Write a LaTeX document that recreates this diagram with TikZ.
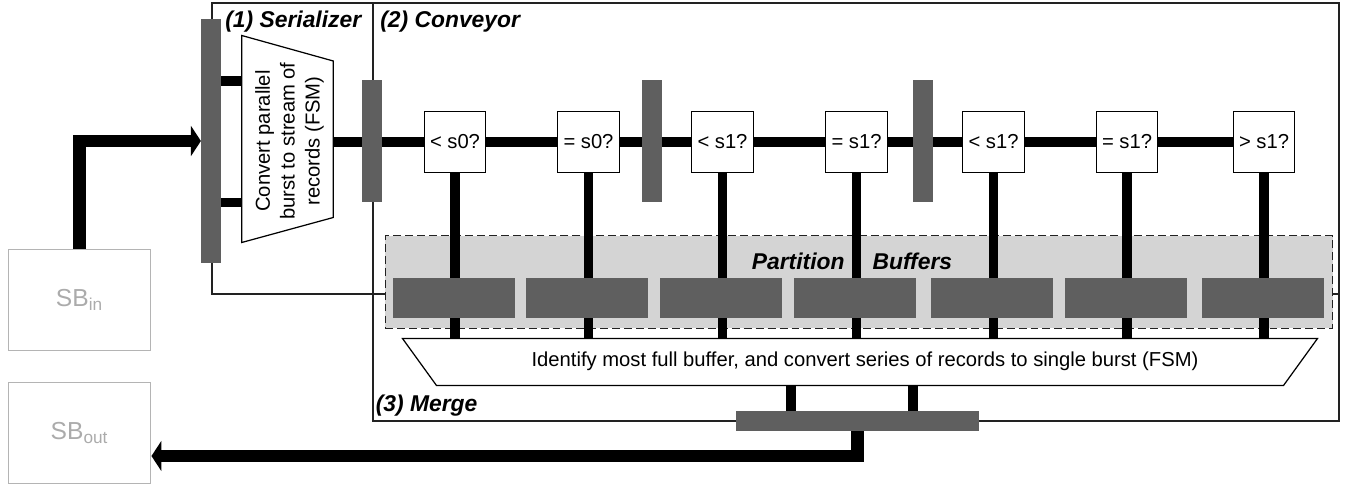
\documentclass[tikz,border=0pt]{standalone}
\usepackage{fontspec}
\setmainfont{Liberation Sans}
\usetikzlibrary{arrows.meta}
\definecolor{reggray}{HTML}{5F5F5F}
\definecolor{areagray}{HTML}{D4D4D4}
\definecolor{sbgray}{HTML}{B4B4B4}
\definecolor{sbtext}{HTML}{ABABAB}
\definecolor{framegray}{HTML}{222222}

\begin{document}
\begin{tikzpicture}[
    cmp/.style={rectangle, draw, fill=white, line width=0.7pt, minimum width=1.23cm, minimum height=1.23cm, inner sep=0pt, font=\fontsize{11.5}{14}\selectfont},
    reg/.style={rectangle, fill=reggray, inner sep=0pt, minimum width=0.39cm, minimum height=2.43cm},
    buf/.style={rectangle, fill=reggray, inner sep=0pt, minimum width=2.44cm, minimum height=0.79cm},
    sb/.style={rectangle, draw=sbgray, line width=0.8pt, text=sbtext, minimum width=2.85cm, minimum height=2.02cm, font=\fontsize{14}{16}\selectfont},
    title/.style={anchor=base west, inner sep=0pt, font=\fontsize{13}{15}\selectfont\bfseries\itshape},
    frame/.style={draw=framegray, line width=0.7pt},
    fsm/.style={draw, fill=white, line width=0.7pt, line join=miter},
    bus/.style={line width=5.6pt},
    arrow/.style={-{Triangle[length=0.2cm, width=0.6cm]}, line width=7pt}
]
    \useasboundingbox (0,0) rectangle (26.9,-9.68);

    % Rahmen der Stufen
    \draw[frame] (4.24,-0.06) rectangle (26.78,-5.88);
    \draw[frame] (7.46,-0.06) rectangle (26.78,-8.42);

    % Partition Buffers Bereich
    \node[draw=framegray, dash pattern=on 4.5pt off 2.3pt, fill=areagray, line width=0.7pt, minimum width=18.95cm, minimum height=1.85cm, inner sep=0pt] (bufarea) at (17.18,-5.64) {};
    \node[anchor=base, inner sep=0pt, font=\fontsize{13}{15}\selectfont\bfseries\itshape] (buflabel) at (17.04,-5.40) {Partition\hspace{0.56cm}Buffers};

    % SB links
    \node[sb] (sbin) at (1.59,-6.00) {SB\textsubscript{in}};
    \node[sb] (sbout) at (1.59,-8.66) {SB\textsubscript{out}};

    % Serializer
    \draw[fsm] (4.835,-0.71) -- (6.665,-1.22) -- (6.665,-4.35) -- (4.835,-4.85) -- cycle;
    \node[rotate=90, align=center, inner sep=0pt, font=\fontsize{11.5}{14.2}\selectfont] (ser) at (5.79,-2.82) {Convert parallel\\burst to stream of\\records (FSM)};
    \coordinate (si1) at (4.835,-1.62);
    \coordinate (si2) at (4.835,-4.05);
    \coordinate (so) at (6.665,-2.84);

    % Vergleicher
    \node[cmp] (c1) at (9.10,-2.84) {< s0?};
    \node[cmp] (c2) at (11.77,-2.84) {= s0?};
    \node[cmp] (c3) at (14.45,-2.84) {< s1?};
    \node[cmp] (c4) at (17.13,-2.84) {= s1?};
    \node[cmp] (c5) at (19.87,-2.84) {< s1?};
    \node[cmp] (c6) at (22.54,-2.84) {= s1?};
    \node[cmp] (c7) at (25.28,-2.84) {> s1?};

    % Merge
    \draw[fsm] (8.05,-6.77) -- (26.35,-6.77) -- (25.67,-7.71) -- (8.73,-7.71) -- cycle;
    \node[inner sep=0pt, font=\fontsize{11.5}{14}\selectfont] (mrg) at (17.30,-7.23) {Identify most full buffer, and convert series of records to single burst (FSM)};
    \coordinate (mtop) at (17.20,-6.77);
    \coordinate (mo1) at (15.82,-7.71);
    \coordinate (mo2) at (18.26,-7.71);

    % Titel
    \node[title] (sertitle) at (4.50,-0.56) {(1) Serializer};
    \node[title] (contitle) at (7.60,-0.56) {(2) Conveyor};
    \node[title] (mrgtitle) at (7.51,-8.23) {(3) Merge};

    % Leitungen
    \draw[bus] (so) -- (c1);
    \draw[bus] (c1) -- (c2);
    \draw[bus] (c2) -- (c3);
    \draw[bus] (c3) -- (c4);
    \draw[bus] (c4) -- (c5);
    \draw[bus] (c5) -- (c6);
    \draw[bus] (c6) -- (c7);
    \draw[bus] (c1.south) -- (c1.south |- mtop);
    \draw[bus] (c2.south) -- (c2.south |- mtop);
    \draw[bus] (c3.south) -- (c3.south |- mtop);
    \draw[bus] (c4.south) -- (c4.south |- mtop);
    \draw[bus] (c5.south) -- (c5.south |- mtop);
    \draw[bus] (c6.south) -- (c6.south |- mtop);
    \draw[bus] (c7.south) -- (c7.south |- mtop);

    % Register
    \node[reg, minimum height=4.88cm] (serbar) at (4.22,-2.82) {};
    \node[reg] (r1) at (7.44,-2.82) {};
    \node[reg] (r2) at (13.04,-2.82) {};
    \node[reg] (r3) at (18.46,-2.82) {};
    \node[reg, minimum width=4.87cm, minimum height=0.39cm] (mbar) at (17.15,-8.42) {};

    % Puffer
    \node[buf] (b1) at (9.08,-5.96) {};
    \node[buf] (b2) at (11.74,-5.96) {};
    \node[buf] (b3) at (14.42,-5.96) {};
    \node[buf] (b4) at (17.10,-5.96) {};
    \node[buf] (b5) at (19.84,-5.96) {};
    \node[buf] (b6) at (22.52,-5.96) {};
    \node[buf] (b7) at (25.26,-5.96) {};

    \draw[bus] (serbar.east |- si1) -- (si1);
    \draw[bus] (serbar.east |- si2) -- (si2);
    \draw[bus] (mo1) -- (mo1 |- mbar.north);
    \draw[bus] (mo2) -- (mo2 |- mbar.north);

    % Pfeile
    \draw[arrow] (sbin.north) |- (serbar.west);
    \draw[arrow] (mbar.south) |- ([yshift=-0.46cm]sbout.east);
\end{tikzpicture}
\end{document}
